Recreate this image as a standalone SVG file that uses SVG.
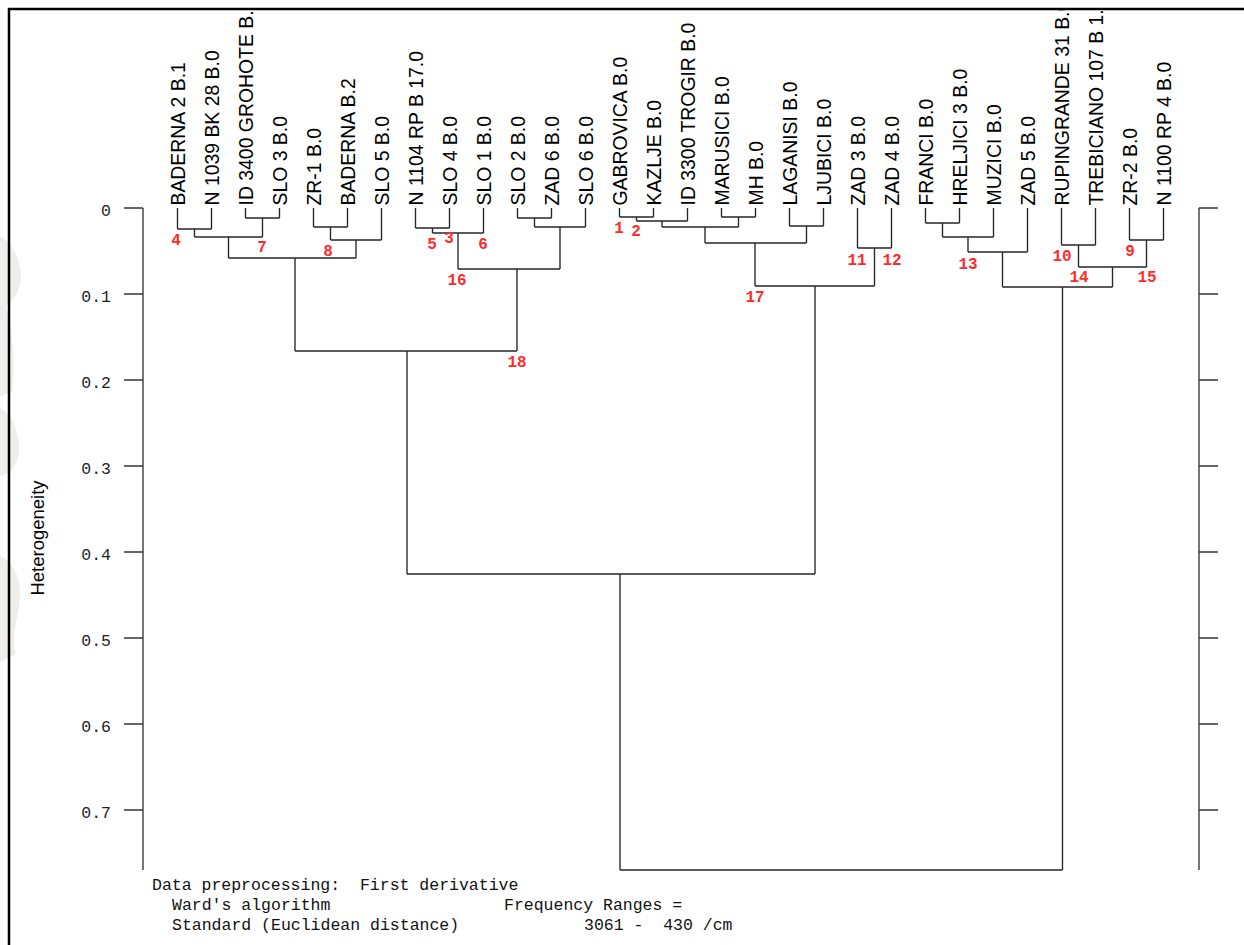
<svg xmlns="http://www.w3.org/2000/svg" width="1244" height="945" viewBox="0 0 1244 945">
  <defs>
    <style>
      .leaf{font-family:"Liberation Sans",Arial,sans-serif;font-size:19.4px;fill:#000}
      .ylab{font-family:"Liberation Sans",Arial,sans-serif;font-size:18.5px;fill:#000;text-anchor:middle}
      .tree{fill:none;stroke:#262626;stroke-width:1.35}
      .axis{fill:none;stroke:#363636;stroke-width:1.35}
      .frame{fill:none;stroke:#000;stroke-width:2.5}
      .tick{font-family:"Liberation Mono","Courier New",monospace;font-size:16.5px;fill:#1e1e1e;text-anchor:end}
      .num{font-family:"Liberation Mono","Courier New",monospace;font-size:16px;font-weight:bold;fill:#ff2b2b;text-anchor:middle}
      .foot{font-family:"Liberation Mono","Courier New",monospace;font-size:16.5px;fill:#111}
    </style>
    <clipPath id="plot"><rect x="10" y="10.5" width="1234" height="935"/></clipPath>
  </defs>

  <rect width="1244" height="945" fill="#fff"/>

  <!-- faint watermark remnant along the left edge -->
  <path d="M0 236 C8 240 18 252 21 272 C22 290 14 300 6 306 C12 330 16 360 12 392 L0 396 Z
           M0 408 C10 412 20 430 19 452 C17 468 8 474 0 476 Z
           M0 556 C10 560 21 574 20 596 C18 620 10 640 16 654 L0 662 Z" fill="#efeeeb"/>

  <!-- frame -->
  <path class="frame" d="M9 945V9H1244"/>

  <!-- heterogeneity axes -->
  <g id="axis-left">
    <path class="axis" d="M143 208V870M124 208H143M124 294H143M124 380H143M124 466H143M124 552H143M124 638H143M124 724H143M124 810H143"/>
    <text class="tick" x="111" y="216.3">0</text>
    <text class="tick" x="111" y="302.3">0.1</text>
    <text class="tick" x="111" y="388.3">0.2</text>
    <text class="tick" x="111" y="474.3">0.3</text>
    <text class="tick" x="111" y="560.3">0.4</text>
    <text class="tick" x="111" y="646.3">0.5</text>
    <text class="tick" x="111" y="732.3">0.6</text>
    <text class="tick" x="111" y="818.3">0.7</text>
    <text class="ylab" transform="translate(44,538) rotate(-90)">Heterogeneity</text>
  </g>
  <g id="axis-right">
    <path class="axis" d="M1199 208V870M1199 208H1218M1199 294H1218M1199 380H1218M1199 466H1218M1199 552H1218M1199 638H1218M1199 724H1218M1199 810H1218"/>
  </g>

  <!-- leaf labels -->
  <g id="leaves" clip-path="url(#plot)">
    <g id="leaf01"><text class="leaf" transform="translate(184.5,205.5) rotate(-90)">BADERNA 2 B.1</text></g>
    <g id="leaf02"><text class="leaf" transform="translate(218.5,205.5) rotate(-90)">N 1039 BK 28 B.0</text></g>
    <g id="leaf03"><text class="leaf" transform="translate(252.5,205.5) rotate(-90)">ID 3400 GROHOTE B.0</text></g>
    <g id="leaf04"><text class="leaf" transform="translate(286.5,205.5) rotate(-90)">SLO 3 B.0</text></g>
    <g id="leaf05"><text class="leaf" transform="translate(320.5,205.5) rotate(-90)">ZR-1 B.0</text></g>
    <g id="leaf06"><text class="leaf" transform="translate(354.5,205.5) rotate(-90)">BADERNA B.2</text></g>
    <g id="leaf07"><text class="leaf" transform="translate(388.5,205.5) rotate(-90)">SLO 5 B.0</text></g>
    <g id="leaf08"><text class="leaf" transform="translate(422.5,205.5) rotate(-90)">N 1104 RP B 17.0</text></g>
    <g id="leaf09"><text class="leaf" transform="translate(456.5,205.5) rotate(-90)">SLO 4 B.0</text></g>
    <g id="leaf10"><text class="leaf" transform="translate(490.5,205.5) rotate(-90)">SLO 1 B.0</text></g>
    <g id="leaf11"><text class="leaf" transform="translate(524.5,205.5) rotate(-90)">SLO 2 B.0</text></g>
    <g id="leaf12"><text class="leaf" transform="translate(558.5,205.5) rotate(-90)">ZAD 6 B.0</text></g>
    <g id="leaf13"><text class="leaf" transform="translate(592.5,205.5) rotate(-90)">SLO 6 B.0</text></g>
    <g id="leaf14"><text class="leaf" transform="translate(626.5,205.5) rotate(-90)">GABROVICA B.0</text></g>
    <g id="leaf15"><text class="leaf" transform="translate(660.5,205.5) rotate(-90)">KAZLJE B.0</text></g>
    <g id="leaf16"><text class="leaf" transform="translate(694.5,205.5) rotate(-90)">ID 3300 TROGIR B.0</text></g>
    <g id="leaf17"><text class="leaf" transform="translate(728.5,205.5) rotate(-90)">MARUSICI B.0</text></g>
    <g id="leaf18"><text class="leaf" transform="translate(762.5,205.5) rotate(-90)">MH B.0</text></g>
    <g id="leaf19"><text class="leaf" transform="translate(796.5,205.5) rotate(-90)">LAGANISI B.0</text></g>
    <g id="leaf20"><text class="leaf" transform="translate(830.5,205.5) rotate(-90)">LJUBICI B.0</text></g>
    <g id="leaf21"><text class="leaf" transform="translate(864.5,205.5) rotate(-90)">ZAD 3 B.0</text></g>
    <g id="leaf22"><text class="leaf" transform="translate(898.5,205.5) rotate(-90)">ZAD 4 B.0</text></g>
    <g id="leaf23"><text class="leaf" transform="translate(932.5,205.5) rotate(-90)">FRANCI B.0</text></g>
    <g id="leaf24"><text class="leaf" transform="translate(966.5,205.5) rotate(-90)">HRELJICI 3 B.0</text></g>
    <g id="leaf25"><text class="leaf" transform="translate(1000.5,205.5) rotate(-90)">MUZICI B.0</text></g>
    <g id="leaf26"><text class="leaf" transform="translate(1034.5,205.5) rotate(-90)">ZAD 5 B.0</text></g>
    <g id="leaf27"><text class="leaf" transform="translate(1068.5,205.5) rotate(-90)">RUPINGRANDE 31 B.0</text></g>
    <g id="leaf28"><text class="leaf" transform="translate(1102.5,205.5) rotate(-90)">TREBICIANO 107 B 1.0</text></g>
    <g id="leaf29"><text class="leaf" transform="translate(1136.5,205.5) rotate(-90)">ZR-2 B.0</text></g>
    <g id="leaf30"><text class="leaf" transform="translate(1170.5,205.5) rotate(-90)">N 1100 RP 4 B.0</text></g>
  </g>

  <!-- dendrogram branches -->
  <g id="connectors">
    <path class="tree" d="M177.5 208V229M211.5 208V229M245.5 208V218M279.5 208V218M313.5 208V227M347.5 208V227M381.5 208V240M415.5 208V228M449.5 208V228M483.5 208V233M517.5 208V218M551.5 208V218M585.5 208V227M619.5 208V217M653.5 208V217M687.5 208V221M721.5 208V217M755.5 208V217M789.5 208V226M823.5 208V226M857.5 208V248M891.5 208V248M925.5 208V223M959.5 208V223M993.5 208V237M1027.5 208V252M1061.5 208V245M1095.5 208V245M1129.5 208V240M1163.5 208V240"/>
    <path class="tree" d="M177.5 229H211.5M194.5 229V237M245.5 218H279.5M262.5 218V237M194.5 237H262.5M228.5 237V258M313.5 227H347.5M330.5 227V240M330.5 240H381.5M356 240V258M228.5 258H356M295 258V351"/>
    <path class="tree" d="M415.5 228H449.5M432.5 228V233M432.5 233H483.5M458 233V269M517.5 218H551.5M534.5 218V227M534.5 227H585.5M560 227V269M458 269H560M517 269V351M295 351H517M407 351V574"/>
    <path class="tree" d="M619.5 217H653.5M636.5 217V221M636.5 221H687.5M662 221V227M721.5 217H755.5M738.5 217V227M662 227H738.5M705 227V243M789.5 226H823.5M806.5 226V243M705 243H806.5M755 243V286M857.5 248H891.5M874.5 248V286M755 286H874.5M815 286V574M407 574H815M620 574V870"/>
    <path class="tree" d="M925.5 223H959.5M942.5 223V237M942.5 237H993.5M968 237V252M968 252H1027.5M1002.5 252V287M1061.5 245H1095.5M1078.5 245V267M1129.5 240H1163.5M1146.5 240V267M1078.5 267H1146.5M1112.5 267V287M1002.5 287H1112.5M1062.5 287V870M620 870H1062.5"/>
  </g>

  <!-- cluster numbers -->
  <g id="clusters">
    <text class="num" x="176" y="245">4</text>
    <text class="num" x="262" y="252">7</text>
    <text class="num" x="328" y="256">8</text>
    <text class="num" x="432" y="249">5</text>
    <text class="num" x="449" y="243">3</text>
    <text class="num" x="483" y="249">6</text>
    <text class="num" x="457" y="285">16</text>
    <text class="num" x="619" y="233">1</text>
    <text class="num" x="636" y="236">2</text>
    <text class="num" x="755" y="302">17</text>
    <text class="num" x="857" y="265">11</text>
    <text class="num" x="892" y="265">12</text>
    <text class="num" x="968" y="269">13</text>
    <text class="num" x="1062" y="261">10</text>
    <text class="num" x="1130" y="256">9</text>
    <text class="num" x="1079" y="282">14</text>
    <text class="num" x="1147" y="282">15</text>
    <text class="num" x="517" y="367">18</text>
  </g>

  <!-- run settings -->
  <g id="footer">
    <text class="foot" x="152" y="890" xml:space="preserve">Data preprocessing:  First derivative</text>
    <text class="foot" x="172" y="910">Ward's algorithm</text>
    <text class="foot" x="504" y="910">Frequency Ranges =</text>
    <text class="foot" x="172" y="930">Standard (Euclidean distance)</text>
    <text class="foot" x="584" y="930" xml:space="preserve">3061 -  430 /cm</text>
  </g>
</svg>
